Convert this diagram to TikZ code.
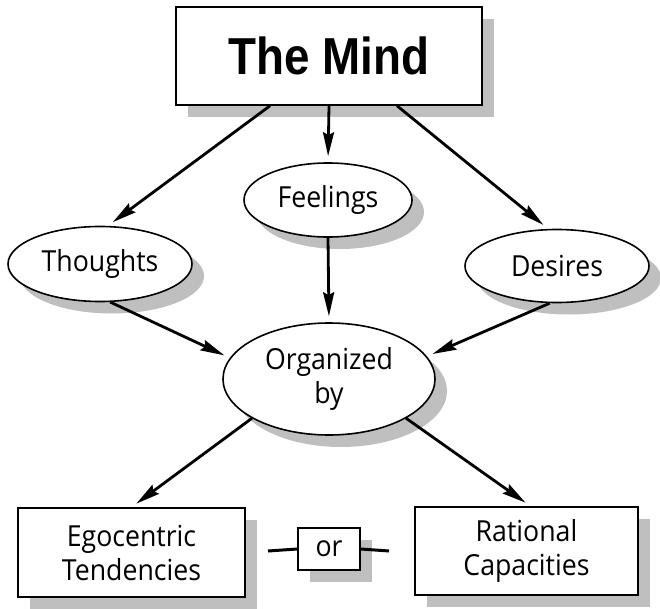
\documentclass[tikz,border=0pt]{standalone}
\usepackage{fontspec}
\IfFontExistsTF{FiraSans-Light.otf}
  {\setmainfont{FiraSans-Light.otf}}
  {\setmainfont{Open Sans}[FakeStretch=0.92]}
\newfontfamily\titlefont{Liberation Sans}[FakeStretch=0.88]
\usetikzlibrary{arrows.meta,shapes.geometric,shadows}

\tikzset{
  shade/.style={drop shadow={shadow xshift=12pt,shadow yshift=-12pt,fill=black!25,opacity=1}},
  blob/.style={ellipse,draw,line width=1.6pt,fill=white,inner sep=0pt,shade,
    font=\fontsize{29}{34}\selectfont,align=center},
  box/.style={rectangle,draw,line width=1.6pt,fill=white,inner sep=0pt,shade,
    font=\fontsize{29}{34}\selectfont,align=center},
  link/.style={line width=2.8pt,-{Stealth[length=24pt,width=11pt,inset=3pt]},shorten >=6pt},
  bar/.style={line width=3pt}
}

\begin{document}
\begin{tikzpicture}[x=1pt,y=-1pt]
  \useasboundingbox (0,0) rectangle (660,609);
  \node[box,minimum width=306pt,minimum height=98pt,font=\titlefont\bfseries\fontsize{52}{60}\selectfont] (mind) at (329,56) {The Mind};
  \node[blob,minimum width=168pt,minimum height=74pt] (feel) at (328,200) {Feelings};
  \node[blob,minimum width=184pt,minimum height=75pt] (thou) at (100,264) {Thoughts};
  \node[blob,minimum width=184pt,minimum height=73pt] (desi) at (557,266) {Desires};
  \node[blob,minimum width=212pt,minimum height=112pt] (org) at (329,379) {Organized\\by};
  \node[box,minimum width=227pt,minimum height=89pt] (ego) at (131.5,552.5) {Egocentric\\Tendencies};
  \node[box,minimum width=223pt,minimum height=88pt] (rat) at (526.5,551) {Rational\\Capacities};
  \node[box,minimum width=62pt,minimum height=42pt,shade/.style={drop shadow={shadow xshift=14pt,shadow yshift=-14pt,fill=black!25,opacity=1}}] (or) at (329,549) {or};
  \coordinate (orL) at (268,551);
  \coordinate (orR) at (389,551);
  \draw[link] ([xshift=-59pt]mind.south) -- ([xshift=8pt]thou.north);
  \draw[link] (mind.south) -- (feel.north);
  \draw[link] ([xshift=68pt]mind.south) -- ([xshift=-9pt]desi.north);
  \draw[link] (thou.-75) -- (org.168);
  \draw[link] (feel.south) -- (org.north);
  \draw[link] (desi.-101) -- (org.13);
  \draw[link] (org.207) -- (ego.north);
  \draw[link] (org.-27) -- ([xshift=4pt]rat.north);
  \draw[bar] (orL) -- (or.west);
  \draw[bar] (or.east) -- (orR);
\end{tikzpicture}
\end{document}
